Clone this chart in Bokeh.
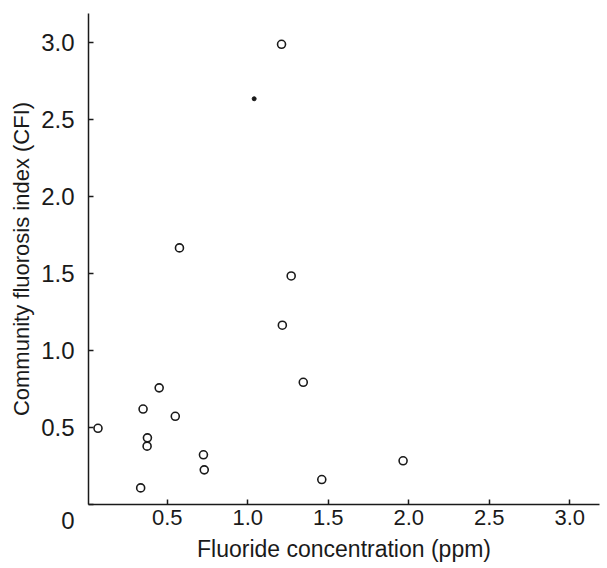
from bokeh.plotting import figure
from bokeh.models import Range1d, FixedTicker, NumeralTickFormatter
from bokeh.embed import file_html
from bokeh.resources import INLINE

# Open-circle communities
fluoride_ppm = [0.07, 0.335, 0.35, 0.377, 0.375, 0.45, 0.55, 0.576, 0.725, 0.73,
                1.21, 1.215, 1.27, 1.345, 1.46, 1.965]
cfi = [0.495, 0.108, 0.62, 0.433, 0.379, 0.758, 0.573, 1.667, 0.323, 0.225,
       2.99, 1.165, 1.485, 0.794, 0.162, 0.284]
# Filled-dot community
fluoride_ppm_dot = [1.04]
cfi_dot = [2.636]

x_ticks = [0.5, 1.0, 1.5, 2.0, 2.5, 3.0]
y_ticks = [0, 0.5, 1.0, 1.5, 2.0, 2.5, 3.0]

FONT = "Liberation Sans"
INK = "#1a1a1a"

p = figure(width=607, height=568, output_backend="svg", toolbar_location=None,
           x_range=Range1d(0.011, 3.185), y_range=Range1d(0, 3.19),
           min_border_left=88, min_border_right=8, min_border_top=13,
           min_border_bottom=64)
p.outline_line_color = None
p.grid.visible = False
p.background_fill_color = "white"

for ax in (p.xaxis[0], p.yaxis[0]):
    ax.axis_line_color = INK
    ax.axis_line_width = 1.5
    ax.major_tick_in = 5
    ax.major_tick_out = 0
    ax.major_tick_line_color = INK
    ax.major_tick_line_width = 1.5
    ax.minor_tick_line_color = None
    ax.major_label_text_font = FONT
    ax.major_label_text_color = INK
    ax.axis_label_text_font = FONT
    ax.axis_label_text_font_style = "normal"
    ax.axis_label_text_color = INK
    ax.formatter = NumeralTickFormatter(format="0.0")

p.xaxis.ticker = FixedTicker(ticks=x_ticks)
p.yaxis.ticker = FixedTicker(ticks=y_ticks)
# shared origin "0" sits just below the corner
p.yaxis.major_label_overrides = {0: "\n0"}
p.xaxis.major_label_text_font_size = "22px"
p.yaxis.major_label_text_font_size = "24px"
p.xaxis.major_label_standoff = 5
p.yaxis.major_label_standoff = 14
p.xaxis.axis_label = "Fluoride concentration (ppm)"
p.yaxis.axis_label = "Community fluorosis index (CFI)"
p.xaxis.axis_label_text_font_size = "23px"
p.yaxis.axis_label_text_font_size = "22px"
p.xaxis.axis_label_standoff = 8
p.yaxis.axis_label_standoff = 4

p.scatter(fluoride_ppm, cfi, size=8, marker="circle", fill_color="white",
          line_color=INK, line_width=1.6)
p.scatter(fluoride_ppm_dot, cfi_dot, size=4, marker="circle", fill_color=INK,
          line_color=INK)

open("out.html", "w").write(file_html(p, INLINE))
